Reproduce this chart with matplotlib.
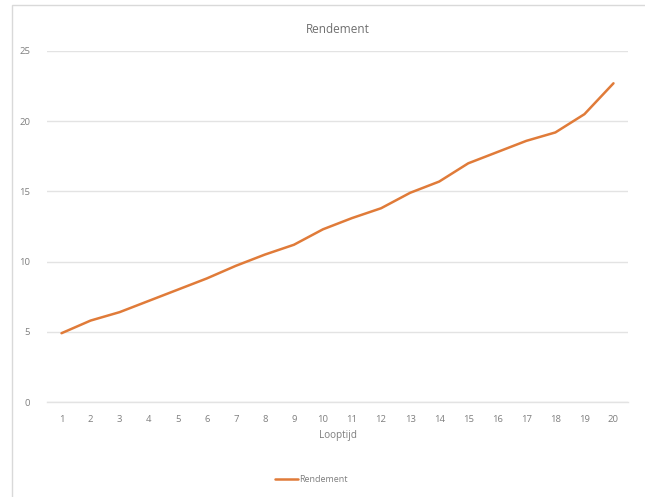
import matplotlib.pyplot as plt
from matplotlib.patches import Rectangle

# looptijd (jaren) en rendement
looptijd = list(range(1, 21))
rendement = [4.9, 5.8, 6.4, 7.2, 8.0, 8.8, 9.7, 10.5, 11.2, 12.3,
             13.1, 13.8, 14.9, 15.7, 17.0, 17.8, 18.6, 19.2, 20.5, 22.7]
y_ticks = [0, 5, 10, 15, 20, 25]

plt.rcParams['font.family'] = ['Open Sans', 'DejaVu Sans']
text_col = '#7f7f7f'
grid_col = '#e3e3e3'

fig = plt.figure(figsize=(6.45, 4.97), dpi=100)
fig.patch.set_facecolor('white')

# chart frame
fig.patches.append(Rectangle((12 / 645, -0.01), 1.0, 1 - 5 / 497 + 0.01,
                             transform=fig.transFigure, fill=False,
                             edgecolor='#d9d9d9', lw=1.0))

ax = fig.add_axes([47 / 645, 1 - 402 / 497, 581 / 645, 351 / 497])
ax.plot(looptijd, rendement, color='#e07b39', lw=1.8, label='Rendement',
        solid_capstyle='round')

ax.set_xlim(0.5, 20.5)
ax.set_ylim(0, 25)
ax.set_xticks(looptijd)
ax.set_yticks(y_ticks)
ax.grid(axis='y', color=grid_col, lw=1.0)
ax.axhline(0, color=grid_col, lw=1.0, clip_on=False, zorder=0)
ax.set_axisbelow(True)
for s in ax.spines.values():
    s.set_visible(False)
ax.tick_params(length=0, colors=text_col, labelsize=6.8)
ax.tick_params(axis='y', pad=12)
ax.tick_params(axis='x', pad=9)

ax.set_title('Rendement', color='#6f6f6f', fontsize=8.5, pad=13)
ax.set_xlabel('Looptijd', color=text_col, fontsize=7.2, labelpad=5)

leg = ax.legend(loc='upper center', bbox_to_anchor=(0.455, -0.185),
                frameon=False, fontsize=6.5, handlelength=2.6,
                handletextpad=0.1)
for t in leg.get_texts():
    t.set_color(text_col)

fig.savefig('out.png', dpi=100)
